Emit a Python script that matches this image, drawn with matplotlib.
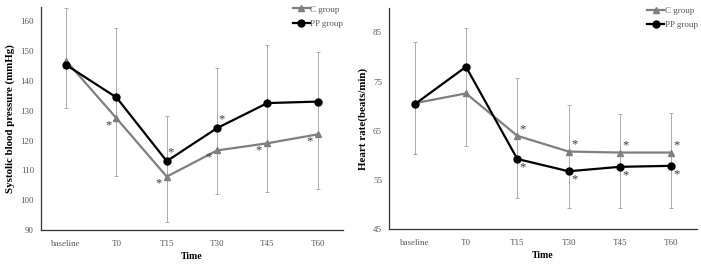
import matplotlib

matplotlib.use("Agg")

import matplotlib.pyplot as plt
import numpy as np

plt.rcParams["font.family"] = ["Liberation Serif", "DejaVu Serif"]

times = ["baseline", "T0", "T15", "T30", "T45", "T60"]

# systolic blood pressure (mmHg)
sbp_c = [146.8, 127.5, 107.9, 116.7, 119.1, 122.1]
sbp_pp = [145.4, 134.5, 113.1, 124.2, 132.6, 133.1]
sbp_err_hi = [164.5, 157.7, 128.1, 144.3, 152.1, 149.6]
sbp_err_lo = [130.9, 108.1, 92.5, 102.0, 102.9, 103.7]

# heart rate (beats/min)
hr_c = [70.6, 72.6, 64.0, 60.8, 60.6, 60.6]
hr_pp = [70.4, 78.0, 59.3, 56.8, 57.7, 57.9]
hr_err_hi = [83.1, 85.9, 75.7, 70.2, 68.4, 68.7]
hr_err_lo = [60.4, 62.0, 51.3, 49.3, 49.3, 49.3]

# significance marks: (index, group)
sbp_stars = [(1, "c"), (2, "c"), (2, "pp"), (3, "c"), (3, "pp"), (4, "c"), (5, "c")]
hr_stars = [(2, "c"), (3, "c"), (4, "c"), (5, "c"), (2, "pp"), (3, "pp"), (4, "pp"), (5, "pp")]

GRAY = "#7f7f7f"
ERR = "#ababab"


def draw_panel(ax, c, pp, hi, lo, stars, ylim, yticks, ylabel, star_off):
	x = np.arange(len(times))
	c = np.asarray(c)
	yerr = [c - np.asarray(lo), np.asarray(hi) - c]
	ax.errorbar(x, c, yerr=yerr, fmt="none", ecolor=ERR, elinewidth=0.7,
				capsize=1.6, capthick=0.7, zorder=1)
	ax.plot(x, c, color=GRAY, lw=1.6, marker="^", ms=5, label="C group", zorder=3)
	ax.plot(x, pp, color="black", lw=1.6, marker="o", ms=5, label="PP group", zorder=4)

	for i, grp in stars:
		y = c[i] if grp == "c" else pp[i]
		ax.annotate("*", (x[i], y), xytext=star_off[grp], textcoords="offset points",
					ha="center", va="center", fontsize=9, color="#3a3a3a")

	ax.set_xlim(-0.5, len(times) - 0.5)
	ax.set_ylim(*ylim)
	ax.set_xticks(x)
	ax.set_xticklabels(times)
	ax.set_yticks(yticks)
	ax.tick_params(length=0, labelsize=6.5, labelcolor="#595959")
	ax.tick_params(axis="x", pad=7)
	ax.tick_params(axis="y", pad=5)
	for s in ("top", "right"):
		ax.spines[s].set_visible(False)
	for s in ("left", "bottom"):
		ax.spines[s].set_color("#333333")
		ax.spines[s].set_linewidth(0.9)
	ax.set_xlabel("Time", fontsize=7, fontweight="bold", labelpad=3)
	ax.set_ylabel(ylabel, fontsize=7.8, fontweight="bold", labelpad=4)
	ax.legend(loc="upper right", bbox_to_anchor=(1.02, 1.03), frameon=False, fontsize=6.5,
			  labelcolor="#595959", handlelength=1.8, handletextpad=0.1, borderaxespad=0.2,
			  labelspacing=0.7)


fig = plt.figure(figsize=(7.01, 2.64), dpi=100)
ax1 = fig.add_axes([0.0585, 0.129, 0.4305, 0.846])
ax2 = fig.add_axes([0.555, 0.131, 0.439, 0.840])

draw_panel(ax1, sbp_c, sbp_pp, sbp_err_hi, sbp_err_lo, sbp_stars, (90, 165),
		   np.arange(90, 161, 10), "Systolic blood pressure (mmHg)",
		   {"c": (-6, -5), "pp": (3, 6)})
draw_panel(ax2, hr_c, hr_pp, hr_err_hi, hr_err_lo, hr_stars, (45, 90),
		   np.arange(45, 86, 10), "Heart rate(beats/min)",
		   {"c": (4, 5), "pp": (4, -6)})

fig.savefig("out.png", dpi=100)
